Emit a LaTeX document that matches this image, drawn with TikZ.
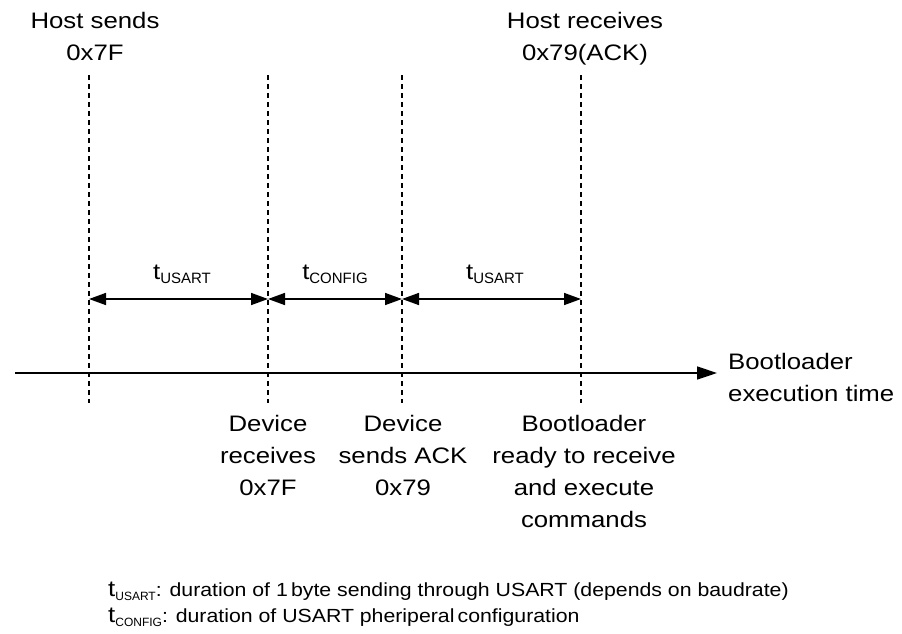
\documentclass[tikz,border=0pt]{standalone}
\usepackage{fontspec}
\setmainfont{Liberation Sans}
\newfontfamily\widefont{Liberation Sans}[FakeStretch=1.15]
\newfontfamily\legfont{Liberation Sans}[FakeStretch=1.12]
\newfontfamily\plainfont{Liberation Sans}
\usetikzlibrary{arrows.meta}
\newcommand{\sbx}[2]{{\plainfont\fontsize{#1}{#1}\selectfont\raisebox{-4pt}{#2}}}
\begin{document}
\begin{tikzpicture}[x=1pt,y=-1pt,
  lbl/.style={inner sep=0pt, font=\widefont\fontsize{22.4}{32}\selectfont, align=center},
  tlbl/.style={inner sep=0pt, font=\widefont\fontsize{22.4}{32}\selectfont, anchor=base},
  leg/.style={inner sep=0pt, font=\legfont\fontsize{19}{26}\selectfont, anchor=base west},
  guide/.style={line width=1.2pt, dash pattern=on 5pt off 4pt},
  dur/.style={line width=1.6pt, {Triangle[length=17pt,width=12pt]}-{Triangle[length=17pt,width=12pt]}},
  axis/.style={line width=1.6pt, -{Triangle[length=20pt,width=13pt]}}]
\useasboundingbox (0,0) rectangle (902,633);
% guide lines
\foreach \n/\x in {a/89,b/268,c/402,d/581}{
  \coordinate (\n-top) at (\x,75);
  \coordinate (\n-bot) at (\x,403);
  \coordinate (\n-mid) at (\x,299);
  \draw[guide] (\n-top) -- (\n-bot);
}
% durations
\draw[dur] (a-mid) -- (b-mid);
\draw[dur] (b-mid) -- (c-mid);
\draw[dur] (c-mid) -- (d-mid);
\node[tlbl] (t1) at (182,279) {t\sbx{15}{USART}};
\node[tlbl] (t2) at (335,279) {t\sbx{15}{CONFIG}};
\node[tlbl] (t3) at (495,279) {t\sbx{15}{USART}};
% time axis
\coordinate (axs) at (15,373);
\coordinate (axe) at (717,373);
\draw[axis] (axs) -- (axe);
\node[lbl, anchor=north west, align=left] (axl) at (728,353) {Bootloader\\execution time};
% top labels
\node[lbl, anchor=north] (hs) at (95,12) {Host sends\\0x7F};
\node[lbl, anchor=north] (hr) at (585,12) {Host receives\\0x79(ACK)};
% bottom labels
\node[lbl, anchor=north] (dr) at (268,415) {Device\\receives\\0x7F};
\node[lbl, anchor=north] (ds) at (403,415) {Device\\sends ACK\\0x79};
\node[lbl, anchor=north] (br) at (584,415) {Bootloader\\ready to receive\\and execute\\commands};
% legend
\node[leg] (l1) at (108,596) {{\widefont\fontsize{22.4}{22.4}\selectfont t}\sbx{12}{USART}: duration of 1\,byte sending through USART (depends on baudrate)};
\node[leg] (l2) at (108,622) {{\widefont\fontsize{22.4}{22.4}\selectfont t}\sbx{12}{CONFIG}: duration of USART pheriperal\,configuration};
\end{tikzpicture}
\end{document}
